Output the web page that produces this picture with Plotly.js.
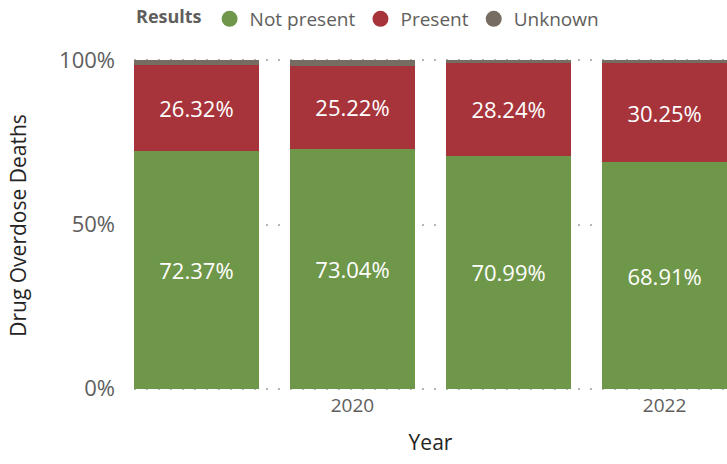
<!DOCTYPE html>
<html>
<head>
<meta charset="utf-8">
<script src="https://cdn.plot.ly/plotly-3.0.1.min.js"></script>
<style>html,body{margin:0;padding:0;background:#fff;}#chart{width:727px;height:464px;}</style>
</head>
<body>
<div id="chart"></div>
<script>
const years = [2019, 2020, 2021, 2022];
const notPresent = [72.37, 73.04, 70.99, 68.91];
const present = [26.32, 25.22, 28.24, 30.25];
const unknown = [1.31, 1.74, 0.77, 0.84];
const xTickVals = [2020, 2022];
const xTickText = ['2020', '2022'];
const yTickVals = [0, 50, 100];
const yTickText = ['0%', '50%', '100%'];

const colors = {np: '#6f974a', p: '#a8343b', u: '#766c62'};
const font = '"Open Sans", "Noto Sans", sans-serif';

const traces = [
  {type: 'bar', x: years, y: notPresent, name: 'Not present', marker: {color: colors.np},
   text: notPresent.map(v => v.toFixed(2) + '%'), textposition: 'inside', insidetextanchor: 'middle',
   textfont: {color: '#ffffff', size: 22, family: font}, showlegend: false, hoverinfo: 'skip', width: 0.8},
  {type: 'bar', x: years, y: present, name: 'Present', marker: {color: colors.p},
   text: present.map(v => v.toFixed(2) + '%'), textposition: 'inside', insidetextanchor: 'middle',
   textfont: {color: '#ffffff', size: 22, family: font}, showlegend: false, hoverinfo: 'skip', width: 0.8},
  {type: 'bar', x: years, y: unknown, name: 'Unknown', marker: {color: colors.u},
   textposition: 'none', showlegend: false, hoverinfo: 'skip', width: 0.8},
  {type: 'scatter', mode: 'markers', x: [null], y: [null], name: 'Not present', marker: {color: colors.np, size: 20}},
  {type: 'scatter', mode: 'markers', x: [null], y: [null], name: 'Present', marker: {color: colors.p, size: 20}},
  {type: 'scatter', mode: 'markers', x: [null], y: [null], name: 'Unknown', marker: {color: colors.u, size: 20}}
];

const layout = {
  width: 727, height: 464,
  margin: {l: 134, r: 0, t: 59, b: 72},
  barmode: 'stack',
  paper_bgcolor: '#fff', plot_bgcolor: '#fff',
  font: {family: font, color: '#605e5c'},
  showlegend: true,
  legend: {
    orientation: 'h', traceorder: 'normal', x: 0.0, xanchor: 'left', yref: 'container', y: 1, yanchor: 'top',
    title: {text: '<b>Results</b>', font: {size: 18, color: '#605e5c'}},
    font: {size: 19, color: '#605e5c'}, itemwidth: 30, tracegroupgap: 0,
    bgcolor: 'rgba(0,0,0,0)'
  },
  xaxis: {
    range: [2018.6, 2022.4], tickvals: xTickVals, ticktext: xTickText,
    showgrid: false, zeroline: false, showline: false,
    tickfont: {size: 19, color: '#605e5c'},
    title: {text: 'Year', font: {size: 21, color: '#252423'}, standoff: 18}
  },
  yaxis: {
    range: [-1, 100.4], tickvals: yTickVals, ticktext: yTickText,
    showgrid: true, gridcolor: '#b4b4b4', griddash: '2px,10px', gridwidth: 2,
    zeroline: false, showline: false, ticklabelstandoff: 18,
    tickfont: {size: 22, color: '#605e5c'},
    title: {text: 'Drug Overdose Deaths', font: {size: 21, color: '#252423'}, standoff: 26}
  }
};

Plotly.newPlot('chart', traces, layout, {displayModeBar: false, staticPlot: true});
</script>
</body>
</html>
